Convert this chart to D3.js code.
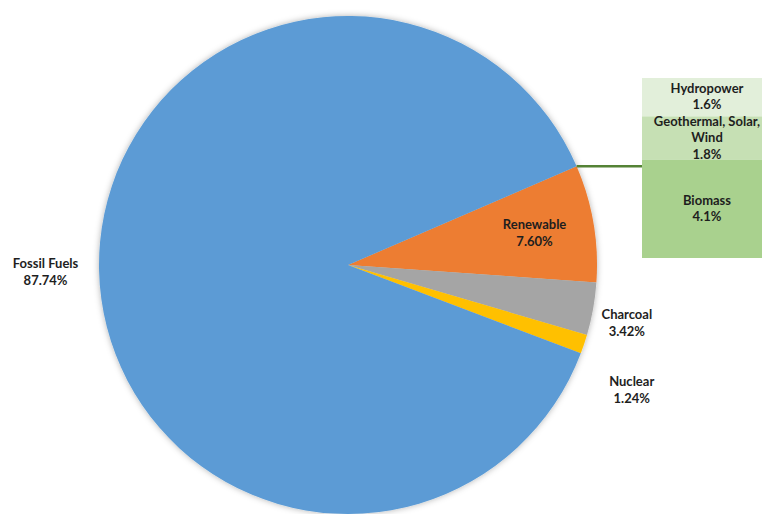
<!DOCTYPE html>
<html lang="en">
<head>
  <meta charset="UTF-8">
  <title>Energy sources</title>
  <style>
    * { margin: 0; }
    body { background: #fff; overflow: hidden; }
    text {
      font-family: Lato, "Open Sans", sans-serif;
      font-size: 13px;
      font-weight: bold;
      fill: #1e1e1e;
    }
  </style>
</head>
<body>
  <div id="chart"></div>
  <script src="https://cdnjs.cloudflare.com/ajax/libs/d3/7.8.5/d3.min.js"></script>
  <script>
    // main pie
    const categories = ['Renewable', 'Charcoal', 'Nuclear', 'Fossil Fuels'];
    const shares = [7.60, 3.42, 1.24, 87.74];
    const colors = ['#ed7d31', '#a5a5a5', '#ffc000', '#5b9bd5'];

    // renewable breakdown (box on the right)
    const parts = ['Hydropower', 'Geothermal, Solar, Wind', 'Biomass'];
    const partLines = [['Hydropower'], ['Geothermal, Solar,', 'Wind'], ['Biomass']];
    const partShares = [1.6, 1.8, 4.1];
    const partColors = ['#e2efda', '#c6e0b4', '#a9d18e'];

    const width = 762, height = 514;
    const cx = 348, cy = 265, R = 249;
    const rot = 66.65 * Math.PI / 180;

    const svg = d3.select('#chart').append('svg')
      .attr('width', width)
      .attr('height', height);

    const defs = svg.append('defs');
    defs.append('filter')
      .attr('id', 'shadow')
      .attr('x', '-10%').attr('y', '-10%')
      .attr('width', '120%').attr('height', '120%')
      .append('feDropShadow')
      .attr('dx', 0).attr('dy', 0)
      .attr('stdDeviation', 3)
      .attr('flood-color', '#000')
      .attr('flood-opacity', 0.3);

    const data = categories.map((c, i) => ({ name: c, value: shares[i], color: colors[i] }));

    const pie = d3.pie()
      .sort(null)
      .value(d => d.value)
      .startAngle(rot)
      .endAngle(rot + 2 * Math.PI);

    const arcs = pie(data);
    const arc = d3.arc().innerRadius(0).outerRadius(R);

    const g = svg.append('g').attr('transform', `translate(${cx},${cy})`);

    g.append('g')
      .attr('filter', 'url(#shadow)')
      .selectAll('path')
      .data(arcs)
      .join('path')
      .attr('d', arc)
      .attr('fill', d => d.data.color);

    // label placement: factor of radius, plus small nudges where Excel moved them
    const labelRadius = { 'Renewable': 0.76, 'Charcoal': 1.15, 'Nuclear': 1.24, 'Fossil Fuels': 1.215 };
    const labelNudge = { 'Charcoal': [-3, 7], 'Nuclear': [-9, 27] };
    const fmt = d3.format('.2f');

    arcs.forEach(d => {
      const a = (d.startAngle + d.endAngle) / 2;
      const r = R * labelRadius[d.data.name];
      const n = labelNudge[d.data.name] || [0, 0];
      const x = Math.sin(a) * r + n[0];
      const y = -Math.cos(a) * r + n[1];
      const t = g.append('text')
        .attr('text-anchor', 'middle')
        .attr('x', x)
        .attr('y', y - 4);
      t.append('tspan').attr('x', x).text(d.data.name);
      t.append('tspan').attr('x', x).attr('dy', 17).text(fmt(d.data.value) + '%');
    });

    // breakdown box
    const boxX = 642, boxW = 130;
    const y = d3.scaleLinear()
      .domain([0, d3.sum(partShares)])
      .range([78, 258]);

    let acc = 0;
    const cells = parts.map((p, i) => {
      const c = { name: p, lines: partLines[i], value: partShares[i], color: partColors[i], y0: acc, y1: acc + partShares[i] };
      acc += partShares[i];
      return c;
    });

    const box = svg.append('g');
    box.selectAll('rect')
      .data(cells)
      .join('rect')
      .attr('x', boxX)
      .attr('y', d => y(d.y0))
      .attr('width', boxW)
      .attr('height', d => y(d.y1) - y(d.y0))
      .attr('fill', d => d.color);

    const lh = 16.5;
    cells.forEach(c => {
      const lines = c.lines.concat([d3.format('.1f')(c.value) + '%']);
      const mid = (y(c.y0) + y(c.y1)) / 2;
      const top = mid - (lines.length - 1) * lh / 2 + 4;
      const t = box.append('text').attr('text-anchor', 'middle');
      lines.forEach((l, k) => {
        t.append('tspan').attr('x', 707).attr('y', top + k * lh).text(l);
      });
    });

    // connector from the top edge of the renewable slice
    const a0 = arcs[0].startAngle;
    const py = cy - Math.cos(a0) * R;
    svg.append('line')
      .attr('x1', cx + Math.sin(a0) * R)
      .attr('y1', py)
      .attr('x2', boxX)
      .attr('y2', py)
      .attr('stroke', '#548235')
      .attr('stroke-width', 2.5);
  </script>
</body>
</html>
